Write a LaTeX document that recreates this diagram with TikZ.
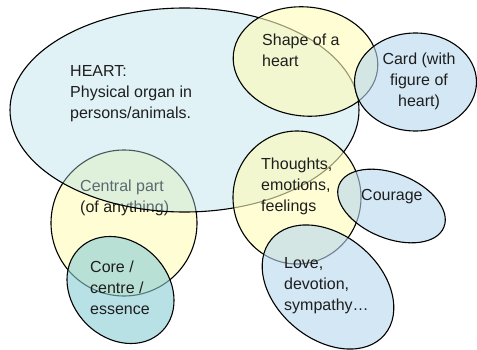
\documentclass[tikz,border=0pt]{standalone}
\usepackage{fontspec}
\setmainfont{Liberation Sans}
\usepackage{xcolor}
\usepackage{tikz}
\usetikzlibrary{positioning,shapes.geometric}
\definecolor{ink}{RGB}{30,30,30}
\definecolor{heartfill}{RGB}{177,222,232}
\definecolor{yelfill}{RGB}{255,252,182}
\definecolor{bluefill}{RGB}{183,215,238}
\definecolor{tealfill}{RGB}{137,205,213}
\tikzset{
  ell/.style={ellipse, draw=black, line width=1.1pt, inner sep=0pt, fill opacity=0.6},
  hell/.style={ell, fill=heartfill, fill opacity=0.4},
  yell/.style={ell, fill=yelfill},
  bell/.style={ell, fill=bluefill},
  tell/.style={ell, fill=tealfill},
  lbl/.style={inner sep=0pt, align=left, anchor=west, text=ink,
    font=\fontsize{16}{21}\selectfont},
}
\begin{document}
\begin{tikzpicture}[x=1pt, y=1pt]
  \useasboundingbox (0,0) rectangle (477,349);
  % bubbles with their labels, back to front
  \node[yell, minimum width=146, minimum height=146] (central) at (124,126) {};
  \node[lbl] (central-t) at (80,151) {Central part\\(of anything)};
  \node[hell, minimum width=349, minimum height=204] (heart) at (184.5,239) {};
  \node[lbl] (heart-t) at (70,255) {HEART:\\Physical organ in\\persons/animals.};
  \node[yell, minimum width=145, minimum height=109, rotate=-6] (shape) at (305.5,287.5) {};
  \node[lbl] (shape-t) at (262,298.5) {Shape of a\\heart};
  \node[bell, minimum width=122, minimum height=98] (card) at (415.5,267) {};
  \node[lbl, anchor=center, align=center] (card-t) at (419,267.5) {Card (with\\figure of\\heart)};
  \node[tell, minimum width=117, minimum height=96, rotate=-45] (core) at (120.5,59) {};
  \node[lbl] (core-t) at (90,61) {Core /\\centre /\\essence};
  \node[yell, minimum width=128, minimum height=133] (thoughts) at (297,151.5) {};
  \node[lbl] (thoughts-t) at (261,163) {Thoughts,\\emotions,\\feelings};
  \node[bell, minimum width=113, minimum height=65, rotate=-22] (courage) at (391.5,143) {};
  \node[lbl] (courage-t) at (361,152) {Courage};
  \node[bell, minimum width=148, minimum height=104, rotate=-40] (love) at (328,62) {};
  \node[lbl] (love-t) at (284,63) {Love,\\devotion,\\sympathy\ldots};
\end{tikzpicture}
\end{document}
